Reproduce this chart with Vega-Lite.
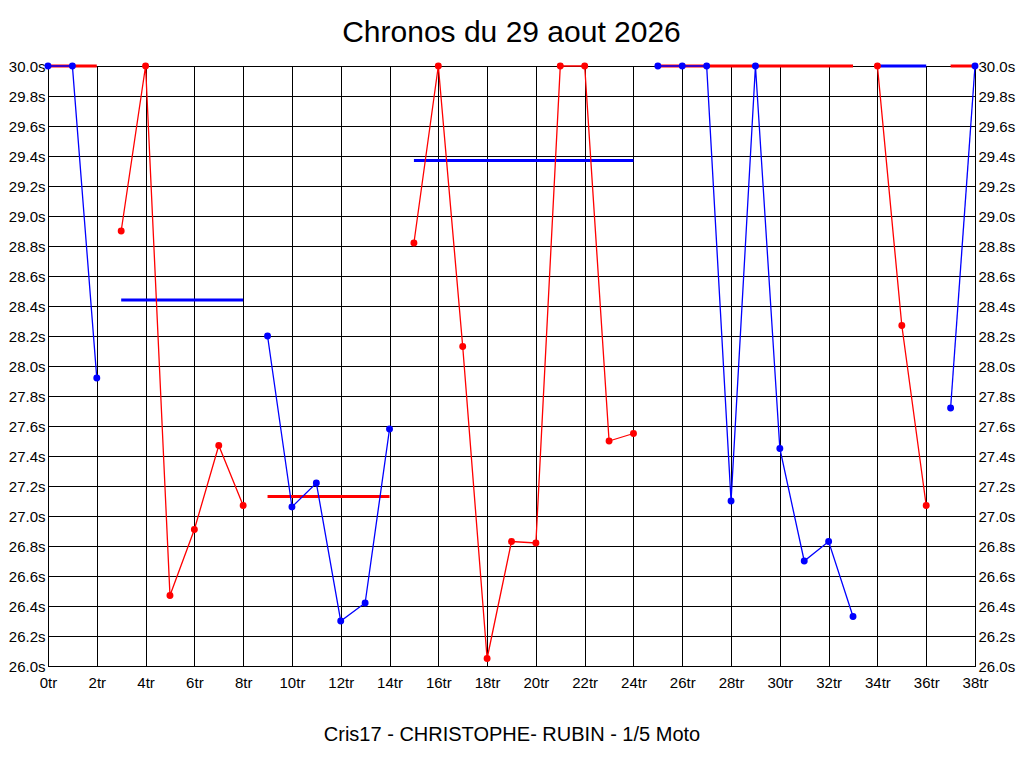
{
  "$schema": "https://vega.github.io/schema/vega-lite/v6.json",
  "width": 927,
  "height": 600,
  "autosize": {"type": "none"},
  "padding": {"left": 48, "top": 66, "right": 49, "bottom": 102},
  "background": "white",
  "title": {
    "text": "Chronos du 29 aout 2026",
    "font": "Liberation Sans",
    "fontSize": 30,
    "fontWeight": "normal",
    "color": "black",
    "anchor": "middle",
    "offset": 11
  },
  "config": {
    "font": "Liberation Sans",
    "view": {"stroke": "black", "strokeWidth": 1},
    "axis": {
      "labelColor": "black",
      "labelFontSize": 15,
      "labelFont": "Liberation Sans",
      "gridColor": "black",
      "gridOpacity": 1,
      "gridWidth": 1,
      "domainColor": "black",
      "ticks": false
    }
  },
  "datasets": {
    "tours": [
      {"tour": 0, "temps": 30.0, "relais": 1, "groupe": "A"},
      {"tour": 1, "temps": 30.0, "relais": 1, "groupe": "A"},
      {"tour": 2, "temps": 27.92, "relais": 1, "groupe": "A"},
      {"tour": 3, "temps": 28.9, "relais": 2, "groupe": "B"},
      {"tour": 4, "temps": 30.0, "relais": 2, "groupe": "B"},
      {"tour": 5, "temps": 26.47, "relais": 2, "groupe": "B"},
      {"tour": 6, "temps": 26.91, "relais": 2, "groupe": "B"},
      {"tour": 7, "temps": 27.47, "relais": 2, "groupe": "B"},
      {"tour": 8, "temps": 27.07, "relais": 2, "groupe": "B"},
      {"tour": 9, "temps": 28.2, "relais": 3, "groupe": "A"},
      {"tour": 10, "temps": 27.06, "relais": 3, "groupe": "A"},
      {"tour": 11, "temps": 27.22, "relais": 3, "groupe": "A"},
      {"tour": 12, "temps": 26.3, "relais": 3, "groupe": "A"},
      {"tour": 13, "temps": 26.42, "relais": 3, "groupe": "A"},
      {"tour": 14, "temps": 27.58, "relais": 3, "groupe": "A"},
      {"tour": 15, "temps": 28.82, "relais": 4, "groupe": "B"},
      {"tour": 16, "temps": 30.0, "relais": 4, "groupe": "B"},
      {"tour": 17, "temps": 28.13, "relais": 4, "groupe": "B"},
      {"tour": 18, "temps": 26.05, "relais": 4, "groupe": "B"},
      {"tour": 19, "temps": 26.83, "relais": 4, "groupe": "B"},
      {"tour": 20, "temps": 26.82, "relais": 4, "groupe": "B"},
      {"tour": 21, "temps": 30.0, "relais": 4, "groupe": "B"},
      {"tour": 22, "temps": 30.0, "relais": 4, "groupe": "B"},
      {"tour": 23, "temps": 27.5, "relais": 4, "groupe": "B"},
      {"tour": 24, "temps": 27.55, "relais": 4, "groupe": "B"},
      {"tour": 25, "temps": 30.0, "relais": 5, "groupe": "A"},
      {"tour": 26, "temps": 30.0, "relais": 5, "groupe": "A"},
      {"tour": 27, "temps": 30.0, "relais": 5, "groupe": "A"},
      {"tour": 28, "temps": 27.1, "relais": 5, "groupe": "A"},
      {"tour": 29, "temps": 30.0, "relais": 5, "groupe": "A"},
      {"tour": 30, "temps": 27.45, "relais": 5, "groupe": "A"},
      {"tour": 31, "temps": 26.7, "relais": 5, "groupe": "A"},
      {"tour": 32, "temps": 26.83, "relais": 5, "groupe": "A"},
      {"tour": 33, "temps": 26.33, "relais": 5, "groupe": "A"},
      {"tour": 34, "temps": 30.0, "relais": 6, "groupe": "B"},
      {"tour": 35, "temps": 28.27, "relais": 6, "groupe": "B"},
      {"tour": 36, "temps": 27.07, "relais": 6, "groupe": "B"},
      {"tour": 37, "temps": 27.72, "relais": 7, "groupe": "A"},
      {"tour": 38, "temps": 30.0, "relais": 7, "groupe": "A"}
    ],
    "moyennes": [
      {"relais": 1, "debut": 0, "fin": 2, "moyenne": 30.0, "groupe": "B"},
      {"relais": 2, "debut": 3, "fin": 8, "moyenne": 28.44, "groupe": "A"},
      {"relais": 3, "debut": 9, "fin": 14, "moyenne": 27.13, "groupe": "B"},
      {"relais": 4, "debut": 15, "fin": 24, "moyenne": 29.37, "groupe": "A"},
      {"relais": 5, "debut": 25, "fin": 33, "moyenne": 30.0, "groupe": "B"},
      {"relais": 6, "debut": 34, "fin": 36, "moyenne": 30.0, "groupe": "A"},
      {"relais": 7, "debut": 37, "fin": 38, "moyenne": 30.0, "groupe": "B"}
    ]
  },
  "layer": [
    {
      "data": {"name": "moyennes"},
      "mark": {"type": "rule", "strokeWidth": 3},
      "encoding": {
        "x": {
          "field": "debut",
          "type": "quantitative",
          "scale": {"domain": [0, 38], "nice": false, "zero": false},
          "axis": {
            "values": [0, 2, 4, 6, 8, 10, 12, 14, 16, 18, 20, 22, 24, 26, 28, 30, 32, 34, 36, 38],
            "labelExpr": "datum.value + 'tr'",
            "labelPadding": 9,
            "labelFlush": false,
            "title": "Cris17 - CHRISTOPHE- RUBIN - 1/5 Moto",
            "titleFont": "Liberation Sans",
            "titleFontSize": 20,
            "titleFontWeight": "normal",
            "titleColor": "black",
            "titlePadding": 34
          }
        },
        "x2": {"field": "fin"},
        "y": {
          "field": "moyenne",
          "type": "quantitative",
          "scale": {"domain": [26, 30], "nice": false, "zero": false},
          "axis": {
            "orient": "right",
            "grid": false,
            "values": [26, 26.2, 26.4, 26.6, 26.8, 27, 27.2, 27.4, 27.6, 27.8, 28, 28.2, 28.4, 28.6, 28.8, 29, 29.2, 29.4, 29.6, 29.8, 30],
            "labelExpr": "format(datum.value, '.1f') + 's'",
            "labelPadding": 3,
            "title": null
          }
        },
        "color": {
          "field": "groupe",
          "type": "nominal",
          "scale": {"domain": ["A", "B"], "range": ["#0000ff", "#ff0000"]},
          "legend": null
        }
      }
    },
    {
      "data": {"name": "tours"},
      "encoding": {
        "x": {"field": "tour", "type": "quantitative", "scale": {"domain": [0, 38], "nice": false, "zero": false}},
        "y": {
          "field": "temps",
          "type": "quantitative",
          "scale": {"domain": [26, 30], "nice": false, "zero": false},
          "axis": {
            "orient": "left",
            "grid": true,
            "values": [26, 26.2, 26.4, 26.6, 26.8, 27, 27.2, 27.4, 27.6, 27.8, 28, 28.2, 28.4, 28.6, 28.8, 29, 29.2, 29.4, 29.6, 29.8, 30],
            "labelExpr": "format(datum.value, '.1f') + 's'",
            "labelPadding": 3,
            "title": null
          }
        },
        "color": {
          "field": "groupe",
          "type": "nominal",
          "scale": {"domain": ["A", "B"], "range": ["#0000ff", "#ff0000"]},
          "legend": null
        },
        "detail": {"field": "relais", "type": "nominal"},
        "order": {"field": "tour", "type": "quantitative"}
      },
      "layer": [
        {"mark": {"type": "line", "strokeWidth": 1.3}},
        {"mark": {"type": "point", "filled": true, "size": 48, "opacity": 1}}
      ]
    }
  ],
  "resolve": {"scale": {"y": "independent"}}
}
